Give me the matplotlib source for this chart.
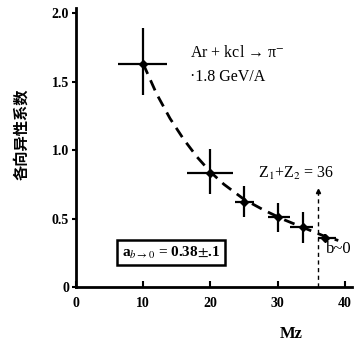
import matplotlib.pyplot as plt
import numpy as np

plt.rcParams['font.family'] = ['Liberation Serif', 'Noto Sans CJK SC', 'DejaVu Sans']
plt.rcParams['mathtext.fontset'] = 'stix'

# 数据点
mz = [10, 20, 25, 30, 33.7, 37]
aniso = [1.63, 0.83, 0.62, 0.51, 0.44, 0.36]
xerr_lo = [3.8, 3.5, 1.3, 1.5, 1.9, 1.0]
xerr_hi = [3.5, 3.3, 1.5, 1.8, 1.5, 1.7]
yerr_lo = [0.23, 0.15, 0.11, 0.11, 0.12, 0.03]
yerr_hi = [0.26, 0.18, 0.12, 0.10, 0.11, 0.03]

# 拟合虚线
fit_x = [10, 12, 14, 16, 18, 20, 22, 25, 28, 31, 34, 37, 39]
fit_y = [1.63, 1.41, 1.23, 1.08, 0.95, 0.84, 0.75, 0.64, 0.56, 0.49, 0.43, 0.37, 0.34]

z_sum = 36

fig = plt.figure(figsize=(3.63, 3.45), dpi=100)
ax = fig.add_axes([0.209, 0.168, 0.76, 0.81])

ax.plot(fit_x, fit_y, 'k--', lw=2.0, dashes=(4, 2.5))
ax.errorbar(mz, aniso, xerr=[xerr_lo, xerr_hi], yerr=[yerr_lo, yerr_hi],
            fmt='D', ms=4.5, color='k', ecolor='k', elinewidth=1.6, capsize=0)

ax.plot([z_sum, z_sum], [0, 0.70], 'k--', lw=1.0, dashes=(3, 2.5))
ax.plot([z_sum], [0.70], marker='^', ms=3, color='k')

ax.set_xlim(0, 41)
ax.set_ylim(0, 2.04)
ax.set_xticks([0, 10, 20, 30, 40])
ax.set_yticks([0, 0.5, 1.0, 1.5, 2.0])
ax.set_yticklabels(['0', '0.5', '1.0', '1.5', '2.0'], fontweight='bold', fontsize=10)
ax.set_xticklabels(['0', '10', '20', '30', '40'], fontweight='bold', fontsize=10)
ax.tick_params(axis='x', direction='in', length=4, width=1.5, pad=7)
ax.tick_params(axis='y', direction='out', length=3, width=1.5, pad=2)
for s in ['top', 'right']:
    ax.spines[s].set_visible(False)
for s in ['left', 'bottom']:
    ax.spines[s].set_linewidth(2.0)

ax.set_xlabel('Mz', fontsize=12, fontweight='bold', labelpad=2)
ax.xaxis.set_label_coords(0.78, -0.14)
fig.text(0.058, 0.61, '各向异性系数', rotation=90, fontsize=11, fontweight='bold',
         family=['Noto Sans CJK SC', 'DejaVu Sans'], ha='center', va='center')

ax.text(17.0, 1.71, 'Ar + kcl → π$^{-}$', fontsize=11.5, va='center')
ax.text(17.0, 1.53, '·1.8 GeV/A', fontsize=11.5, va='center')
ax.text(27.0, 0.83, 'Z$_1$+Z$_2$ = 36', fontsize=11.5, va='center')
ax.text(37.2, 0.28, 'b~0', fontsize=12, va='center')
ax.text(6.8, 0.25, 'a$_{b\\rightarrow0}$ = 0.38$\\pm$.1', fontsize=11, fontweight='bold',
        va='center', bbox=dict(boxstyle='square,pad=0.3', fc='white', ec='k', lw=1.8))

fig.savefig('out.png', dpi=100)
